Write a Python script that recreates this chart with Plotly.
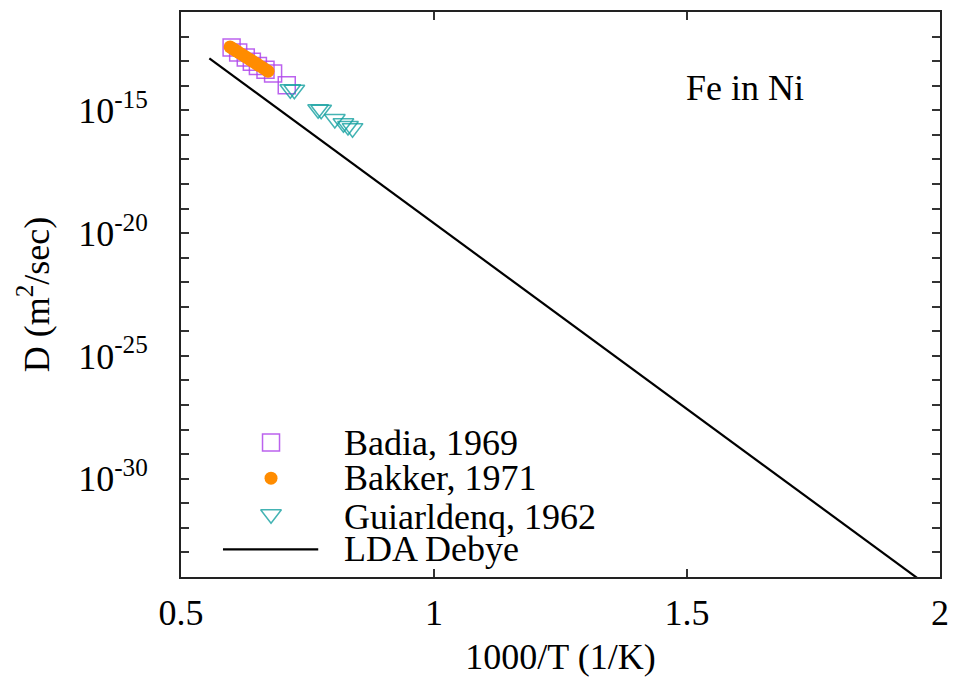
import plotly.graph_objects as go

# ---- data ----
badia_x = [0.600, 0.613, 0.628, 0.640, 0.652, 0.667, 0.682, 0.709]
badia_D = [3.55e-13, 2.24e-13, 1.41e-13, 9.5e-14, 6.3e-14, 4.47e-14, 3.16e-14, 1.05e-14]

bakker_x = [0.597, 0.603, 0.609, 0.615, 0.622, 0.628, 0.635, 0.641, 0.648, 0.654, 0.661, 0.667, 0.672]
bakker_D = [3.80e-13, 3.16e-13, 2.63e-13, 2.19e-13, 1.78e-13, 1.48e-13, 1.20e-13, 1.00e-13,
            8.13e-14, 6.76e-14, 5.50e-14, 4.57e-14, 3.89e-14]

guiar_x = [0.716, 0.724, 0.771, 0.777, 0.804, 0.821, 0.830, 0.839]
guiar_D = [7.2e-15, 6.8e-15, 1.10e-15, 1.05e-15, 4.4e-16, 2.95e-16, 2.3e-16, 1.87e-16]

lda_x = [0.556, 2.0]
lda_D = [1.29e-13, 1.9e-35]

legend_labels = ["Badia, 1969", "Bakker, 1971", "Guiarldenq, 1962", "LDA Debye"]
x_ticks = [0.5, 1, 1.5, 2]
x_ticktext = ["0.5", "1", "1.5", "2"]
y_exps = list(range(-34, -10))

FONT = "Liberation Serif, Times New Roman, serif"
FS = 36
PURPLE = "rgba(175,70,235,0.85)"
TEAL = "rgba(20,160,160,0.8)"
ORANGE = "#ff8c00"

fig = go.Figure()

fig.add_trace(go.Scatter(x=lda_x, y=lda_D, mode="lines",
                         line=dict(color="black", width=2.2), showlegend=False))
fig.add_trace(go.Scatter(x=badia_x, y=badia_D, mode="markers", showlegend=False,
                         marker=dict(symbol="square-open", size=17, color=PURPLE,
                                     line=dict(width=1.5, color=PURPLE))))
fig.add_trace(go.Scatter(x=guiar_x, y=guiar_D, mode="markers", showlegend=False,
                         marker=dict(symbol="triangle-down-open", size=18, color=TEAL,
                                     line=dict(width=1.5, color=TEAL))))
fig.add_trace(go.Scatter(x=bakker_x, y=bakker_D, mode="markers", showlegend=False,
                         marker=dict(symbol="circle", size=13, color=ORANGE)))

# ---- manual legend on an overlay axis in [0,1] ----
leg_y = [0.238, 0.175, 0.107, 0.049]
sym_x = 0.1186
fig.add_trace(go.Scatter(x=[sym_x], y=[leg_y[0]], xaxis="x2", yaxis="y2", mode="markers",
                         showlegend=False,
                         marker=dict(symbol="square-open", size=17, color=PURPLE,
                                     line=dict(width=1.5, color=PURPLE))))
fig.add_trace(go.Scatter(x=[sym_x], y=[leg_y[1]], xaxis="x2", yaxis="y2", mode="markers",
                         showlegend=False, marker=dict(symbol="circle", size=13, color=ORANGE)))
fig.add_trace(go.Scatter(x=[sym_x], y=[leg_y[2] + 0.004], xaxis="x2", yaxis="y2", mode="markers",
                         showlegend=False,
                         marker=dict(symbol="triangle-down-open", size=18, color=TEAL,
                                     line=dict(width=1.5, color=TEAL))))
fig.add_trace(go.Scatter(x=[0.0553, 0.1808], y=[leg_y[3], leg_y[3]], xaxis="x2", yaxis="y2",
                         mode="lines", showlegend=False, line=dict(color="black", width=2.2)))

annotations = []
for lab, yy in zip(legend_labels, leg_y):
    annotations.append(dict(text=lab, x=0.2117, y=yy, xref="paper", yref="paper",
                            xanchor="left", yanchor="middle", showarrow=False,
                            font=dict(family=FONT, size=FS, color="black")))
annotations.append(dict(text="Fe in Ni", x=0.743, y=0.866, xref="paper", yref="paper",
                        xanchor="center", yanchor="middle", showarrow=False,
                        font=dict(family=FONT, size=FS, color="black")))

y_tickvals = [10.0 ** e for e in y_exps]
y_ticktext = [f"10<sup>{e}</sup>" if e % 5 == 0 else "" for e in y_exps]

fig.update_layout(
    width=955, height=684,
    margin=dict(l=181, r=15, t=12, b=107),
    paper_bgcolor="white", plot_bgcolor="white",
    font=dict(family=FONT, size=FS, color="black"),
    annotations=annotations,
    xaxis=dict(range=[0.5, 2.0], tickmode="array", tickvals=x_ticks, ticktext=x_ticktext,
               ticks="inside", ticklen=8, tickwidth=1.5, tickcolor="#333",
               showline=True, linecolor="#222", linewidth=2, mirror="ticks",
               showgrid=False, zeroline=False, ticklabelstandoff=3, automargin=False,
               title=dict(text="1000/T (1/K)", standoff=12, font=dict(size=FS))),
    yaxis=dict(type="log", range=[-34, -11], tickmode="array", tickvals=y_tickvals,
               ticktext=y_ticktext,
               ticks="inside", ticklen=8, tickwidth=1.5, tickcolor="#333",
               showline=True, linecolor="#222", linewidth=2, mirror="ticks",
               showgrid=False, zeroline=False, ticklabelstandoff=24, automargin=False,
               title=dict(text="D (m<sup>2</sup>/sec)", standoff=18, font=dict(size=FS))),
    xaxis2=dict(overlaying="x", range=[0, 1], visible=False, fixedrange=True),
    yaxis2=dict(overlaying="y", range=[0, 1], visible=False, fixedrange=True),
)

fig.write_html("out.html")
